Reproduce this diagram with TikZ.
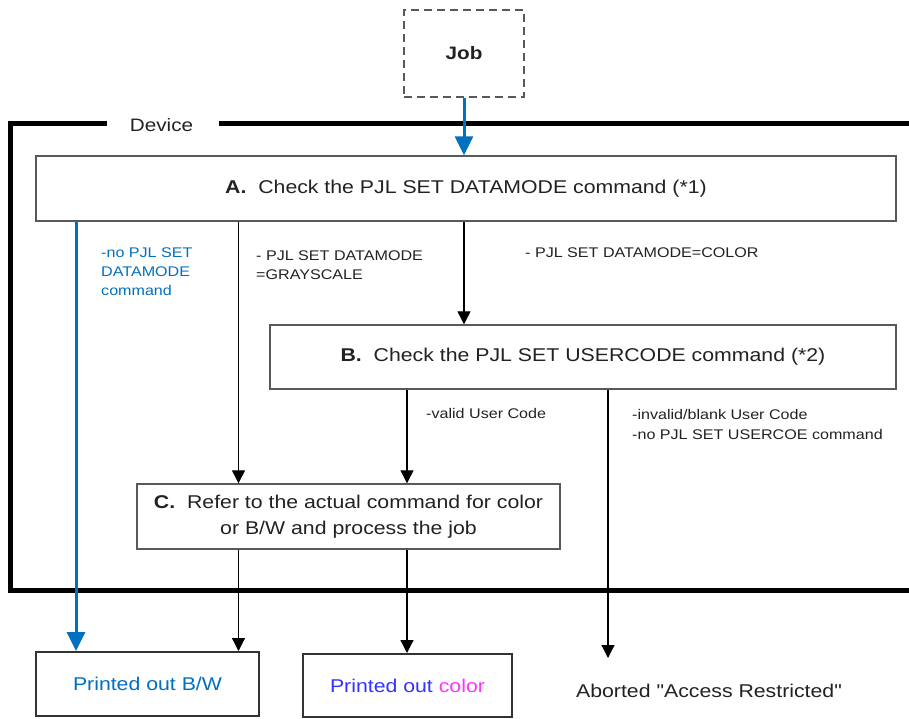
\documentclass[tikz,border=0pt]{standalone}
\usepackage{fontspec}
\setmainfont{Liberation Sans}[FakeStretch=1.15, Ligatures=TeXOff]
\usetikzlibrary{arrows.meta}
\definecolor{pblue}{RGB}{0,112,192}
\definecolor{tblue}{RGB}{51,51,255}
\definecolor{tmag}{RGB}{255,51,255}
\definecolor{txt}{RGB}{34,34,34}
\begin{document}
\begin{tikzpicture}[x=1pt,y=-1pt,
  box/.style={draw=black!65, line width=1.4pt, fill=white, inner sep=0pt,
    font=\fontsize{18.5}{26}\selectfont, text=txt, align=center},
  outbox/.style={draw=black!80, line width=2pt, fill=white, inner sep=0pt,
    font=\fontsize{18.5}{26}\selectfont, align=center},
  jobbox/.style={draw=black!65, line width=1.8pt, dash pattern=on 8pt off 5pt,
    inner sep=0pt, font=\fontsize{18}{22}\selectfont, text=txt},
  lbl/.style={anchor=north west, inner sep=0pt, font=\fontsize{14}{19}\selectfont,
    align=left, text=txt},
  plain/.style={inner sep=0pt, font=\fontsize{18.5}{22}\selectfont, text=txt},
  arr/.style={draw=black, line width=1.2pt, -{Triangle[width=13pt,length=13pt]}},
  barr/.style={draw=pblue, line width=3pt, -{Triangle[width=18pt,length=19pt]}},
  frame/.style={draw=black, line width=5pt, miter limit=10}
]
\useasboundingbox (0,0) rectangle (909,718);

% device frame
\node[plain, font=\fontsize{18}{22}\selectfont] (dev) at (161.5,125.5) {Device};
\draw[frame] (107,123.5) -- (10,123.5) -- (10,590) -- (915,590);
\draw[frame] (219,123.5) -- (915,123.5);

% nodes
\node[jobbox, minimum width=120pt, minimum height=87pt] (job) at (464,53.5) {\textbf{Job}};
\node[box, minimum width=860pt, minimum height=65pt] (A) at (466,188.5)
  {\textbf{A.}\ \ Check the PJL SET DATAMODE command (*1)};
\node[box, minimum width=626pt, minimum height=64pt] (B) at (583,357)
  {\textbf{B.}\ \ Check the PJL SET USERCODE command (*2)};
\node[box, minimum width=423pt, minimum height=65pt] (C) at (348.5,516.5)
  {\textbf{C.}\ \ Refer to the actual command for color\\or B/W and process the job};
\node[outbox, minimum width=223pt, minimum height=64pt, text=pblue] (BW) at (147.5,684)
  {Printed out B/W};
\node[outbox, minimum width=209pt, minimum height=63pt] (CL) at (407.5,685.5)
  {\textcolor{tblue}{Printed out} \textcolor{tmag}{color}};
\node[plain] (AB) at (709,691) {Aborted "Access Restricted"};

% x positions of connectors
\coordinate (xb) at (76,0);
\coordinate (xg) at (238.5,0);
\coordinate (xc) at (464,0);
\coordinate (xv) at (407,0);
\coordinate (xi) at (608,0);
\coordinate (abend) at (608,658);

% connectors
\draw[barr] (job.south) -- (job.south |- A.north);
\draw[barr] (A.south -| xb) -- (BW.north -| xb);
\draw[arr] (A.south -| xg) -- (C.north -| xg);
\draw[arr] (A.south -| xc) -- (B.north -| xc);
\draw[arr] (B.south -| xv) -- (C.north -| xv);
\draw[arr] (B.south -| xi) -- (abend);
\draw[arr] (C.south -| xg) -- (BW.north -| xg);
\draw[arr] (C.south -| xv) -- (CL.north -| xv);

% labels
\node[lbl, text=pblue] (l1) at (101,248) {-no PJL SET\\DATAMODE\\command};
\node[lbl] (l2) at (256,251) {- PJL SET DATAMODE\\=GRAYSCALE};
\node[lbl] (l3) at (525,248) {- PJL SET DATAMODE=COLOR};
\node[lbl] (l4) at (426,408) {-valid User Code};
\node[lbl, font=\fontsize{14}{20}\selectfont] (l5) at (632,409)
  {-invalid/blank User Code\\-no PJL SET USERCOE command};
\end{tikzpicture}
\end{document}
